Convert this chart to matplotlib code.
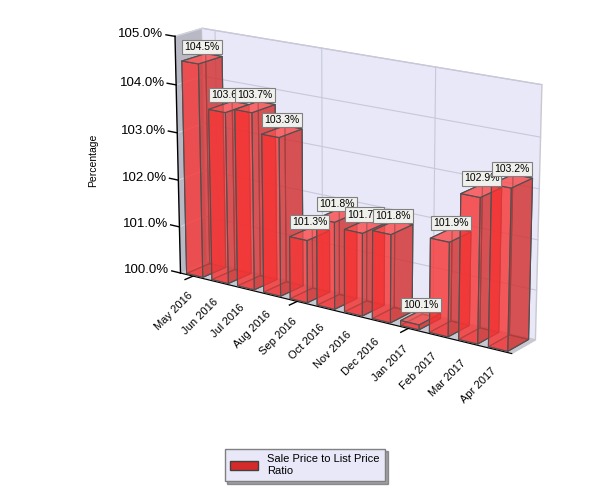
import matplotlib.pyplot as plt
import numpy as np
from matplotlib.patches import Patch

# data
months = ["May 2016", "Jun 2016", "Jul 2016", "Aug 2016", "Sep 2016", "Oct 2016",
          "Nov 2016", "Dec 2016", "Jan 2017", "Feb 2017", "Mar 2017", "Apr 2017"]
ratio = [104.5, 103.6, 103.7, 103.3, 101.3, 101.8, 101.7, 101.8, 100.1, 101.9, 102.9, 103.2]
z_ticks = [100, 101, 102, 103, 104, 105]
grid_months = [0, 4, 8]
series_name = "Sale Price to List Price\nRatio"

plt.rcParams['font.family'] = ['Liberation Sans', 'DejaVu Sans']

fig = plt.figure(figsize=(6, 5), dpi=100)
fig.patch.set_facecolor('white')
ax = fig.add_axes([0.155, 0.2, 0.84, 0.84], projection='3d', computed_zorder=False)
ax.set_facecolor((0, 0, 0, 0))

x = np.arange(len(months))
n = len(months)
base = z_ticks[0]
heights = np.array(ratio) - base
x0, x1 = -0.5, n - 0.5

ax.set_xlim(x0, x1)
ax.set_ylim(0, 1)
ax.set_zlim(z_ticks[0], z_ticks[-1])
ax.set_box_aspect((385, 42, 242), zoom=1.12)
ax.view_init(elev=17, azim=-55)
ax.set_proj_type('persp', focal_length=1.0)

# walls
ax.xaxis.set_pane_color('#b9b9c6')
ax.yaxis.set_pane_color('#e8e8f8')
ax.zaxis.set_pane_color('#c8c8d2')
for a in (ax.xaxis, ax.yaxis, ax.zaxis):
    a.pane.set_edgecolor('#c8c8d0')
ax.grid(False)

# gridlines on back wall and left wall
for zt in z_ticks[1:]:
    ax.plot([x0, x1], [1, 1], [zt, zt], color='#c8c8dc', lw=0.8, zorder=1)
    ax.plot([x0, x0], [0, 1], [zt, zt], color='#d4d4de', lw=0.8, zorder=1)
for gx in grid_months:
    ax.plot([gx, gx], [1, 1], [z_ticks[0], z_ticks[-1]], color='#c8c8dc', lw=0.8, zorder=1)
    ax.plot([gx, gx], [0, -0.3], [base, base], color='black', lw=1, zorder=1)

# front-left edge acting as the value axis
ax.plot([x0, x0], [0, 0], [z_ticks[0], z_ticks[-1]], color='black', lw=1, zorder=1)
for zt in z_ticks:
    ax.plot([x0, x0 - 0.35], [0, 0], [zt, zt], color='black', lw=1, zorder=1)
    ax.text(x0 - 0.45, 0, zt, "%.1f%%" % zt, fontsize=9.5, ha='right', va='center')

# per-face colours: -z, +z, -y, +y, -x, +x
face_cols = [(0.85, 0.15, 0.15, 0.6), (1.0, 0.35, 0.35, 0.65), (1.0, 0.22, 0.22, 0.6),
             (0.85, 0.1, 0.1, 0.5), (0.9, 0.15, 0.15, 0.5), (0.82, 0.22, 0.22, 0.65)]
ax.bar3d(x - 0.32, 0.06, base, 0.64, 0.88, heights,
         color=face_cols * n, edgecolor='#505050', linewidth=0.8,
         shade=False, zorder=2)

for xi, v in zip(x, ratio):
    ax.text(xi, 0.5, v + 0.14, "%.1f%%" % v, fontsize=7.5, ha='center', va='bottom',
            zorder=5,
            bbox=dict(boxstyle='square,pad=0.2', fc='#f0f0ec', ec='#808080', lw=0.8))

ax.set_xticks(x)
ax.set_xticklabels(months, rotation=45, ha='right', va='center',
                   rotation_mode='anchor', fontsize=8)
ax.set_yticks([])
ax.set_zticks(z_ticks)
ax.set_zticklabels([])
ax.xaxis._axinfo['tick']['inward_factor'] = 0
ax.xaxis._axinfo['tick']['outward_factor'] = 0
ax.zaxis._axinfo['tick']['inward_factor'] = 0
ax.zaxis._axinfo['tick']['outward_factor'] = 0
ax.yaxis.line.set_color((0, 0, 0, 0))
ax.zaxis.line.set_color((0, 0, 0, 0))

fig.text(0.155, 0.68, "Percentage", rotation=90, fontsize=7.5, ha='center', va='center')

leg = fig.legend([Patch(fc='#d42a2a', ec='#404040')], [series_name],
                 loc='center', bbox_to_anchor=(0.508, 0.07), fontsize=8,
                 fancybox=False, shadow=True, frameon=True, borderpad=0.5,
                 handlelength=2.5, handleheight=0.9)
leg.get_frame().set_facecolor('#e8e8f8')
leg.get_frame().set_edgecolor('#808080')

fig.savefig("out.png", dpi=100)
